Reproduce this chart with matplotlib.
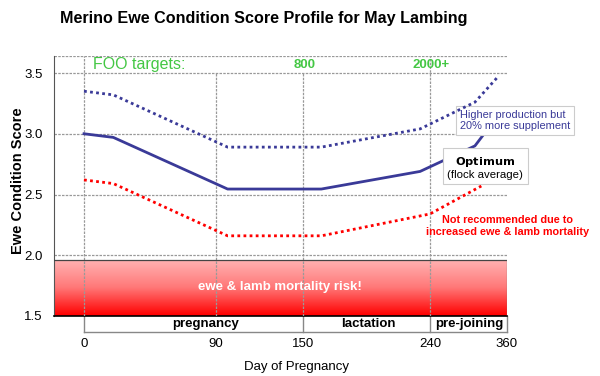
import numpy as np
import matplotlib.pyplot as plt
from matplotlib.scale import FuncScale

plt.rcParams['font.family'] = ['Liberation Sans', 'DejaVu Sans']

# the chart's x axis is not linear in days: tick days and where they sit (relative units)
axis_days = [-20.5, 0, 90, 150, 240, 360]
axis_pos = [54, 84, 216, 303, 430, 507]
tick_days = [0, 90, 150, 240, 360]

# condition score profiles
opt_days = [0, 20, 98, 163, 233, 310, 346]
opt_score = [3.0, 2.97, 2.545, 2.545, 2.69, 2.90, 3.15]
high_days = [0, 20, 98, 163, 233, 310, 346]
high_score = [3.35, 3.32, 2.89, 2.89, 3.04, 3.26, 3.47]
low_days = [0, 20, 98, 163, 240, 320]
low_score = [2.62, 2.59, 2.16, 2.16, 2.34, 2.57]

# phases below the axis
phase_names = ['pregnancy', 'lactation', 'pre-joining']
phase_edges = [0, 150, 240, 360]
phase_label_days = [83, 196, 302]

foo_labels = ['FOO targets:', '800', '2000+']
foo_days = [6, 150, 240]

risk_top = 1.965

blue = '#3a3a98'
green = '#44c744'
red = '#ff0000'


def fwd(d):
    return np.interp(d, axis_days, axis_pos)


def inv(p):
    return np.interp(p, axis_pos, axis_days)


fig = plt.figure(figsize=(6, 3.76), dpi=100)
ax = fig.add_axes([54 / 600, 1 - 316 / 376, (507 - 54) / 600, 260 / 376])
ax.set_xscale(FuncScale(ax, (fwd, inv)))
ax.set_xlim(-20.5, 360)
ax.set_ylim(1.5, 3.64)

for s in ['top', 'right']:
    ax.spines[s].set_visible(False)
ax.spines['left'].set_color('#555555')
ax.spines['bottom'].set_color('black')
ax.spines['bottom'].set_linewidth(1.2)

# grid
grid_kw = dict(color='#999999', ls=(0, (2, 1)), lw=0.9)
for y in [2.0, 2.5, 3.0, 3.5, 3.64]:
    ax.axhline(y, zorder=1, **grid_kw)
ax.vlines([0, 240], 1.5, 3.64, zorder=3, **grid_kw)
ax.vlines([90, 150], 1.5, 3.5, zorder=3, **grid_kw)

# red risk zone with gradient
grad = np.linspace(0, 1, 256).reshape(-1, 1)
cmap = plt.matplotlib.colors.LinearSegmentedColormap.from_list(
    'r', ['#ff0000', '#ff7878', '#ffb4b4'])
ax.imshow(grad, extent=(-20.5, 360, 1.5, risk_top), origin='lower', aspect='auto',
          cmap=cmap, zorder=2)
ax.plot([-20.5, 360], [risk_top, risk_top], color='#444444', lw=0.9, zorder=3)
ax.plot([360, 360], [1.5, risk_top], color='#777777', lw=0.9, zorder=3)
ax.text(134, 1.735, 'ewe & lamb mortality risk!', color='white', weight='bold',
        fontsize=9.5, ha='center', va='center', zorder=4)

# profiles
ax.plot(opt_days, opt_score, color=blue, lw=2, zorder=5)
ax.plot(high_days, high_score, color=blue, lw=2, ls=(0, (1, 1.2)), zorder=7)
ax.plot(low_days, low_score, color=red, lw=2, ls=(0, (1, 1.2)), zorder=5)

# annotations
box = dict(boxstyle='square,pad=0.35', fc='white', ec='#cccccc', lw=0.8)
ax.text(286, 3.11, 'Higher production but\n20% more supplement', color=blue,
        fontsize=7.9, ha='left', va='center', linespacing=1.2, bbox=box, zorder=6)
ax.text(326, 2.725, r'$\bf{Optimum}$' + '\n(flock average)', color='black',
        fontsize=8.2, ha='center', va='center', linespacing=1.15,
        bbox=dict(boxstyle='square,pad=0.4', fc='white', ec='#cccccc', lw=0.8),
        zorder=6)
ax.text(360, 2.24, 'Not recommended due to\nincreased ewe & lamb mortality', color=red,
        weight='bold', fontsize=7.8, ha='center', va='center', linespacing=1.15, zorder=6)

# FOO targets
ax.text(foo_days[0], 3.57, foo_labels[0], color=green, fontsize=11.5, ha='left',
        va='center', zorder=6)
for d, lab in zip(foo_days[1:], foo_labels[1:]):
    ax.text(d + 1, 3.57, lab, color=green, fontsize=9.5, weight='bold', ha='center',
            va='center', zorder=6)

# ticks
ax.set_yticks([1.5, 2.0, 2.5, 3.0, 3.5])
ax.set_yticklabels(['1.5', '2.0', '2.5', '3.0', '3.5'])
ax.tick_params(axis='y', length=0, pad=8, labelsize=9.5)
ax.set_xticks(tick_days)
ax.set_xticklabels([str(d) for d in tick_days])
ax.tick_params(axis='x', length=0, pad=16, labelsize=9.5)
ax.set_ylabel('Ewe Condition Score', weight='bold', fontsize=10.5)
ax.yaxis.set_label_coords(-29 / 453, 0.52)
ax.set_xlabel('Day of Pregnancy', fontsize=9.5)
ax.xaxis.set_label_coords((297 - 54) / 453, -45 / 260)

# phase boxes below the axis
y_low = -16 / 260
tr = ax.get_xaxis_transform()
ax.plot([0, 0], [0, y_low], color='#888888', lw=1, transform=tr, clip_on=False)
ax.plot([0, 360], [y_low, y_low], color='#888888', lw=1, transform=tr, clip_on=False)
for e in phase_edges[1:]:
    ax.plot([e, e], [0, y_low], color='#888888', lw=1, transform=tr, clip_on=False)
for name, d in zip(phase_names, phase_label_days):
    ax.text(d, y_low / 2, name, weight='bold', fontsize=9.5, ha='center',
            va='center', transform=tr)

fig.text(264 / 600, 1 - 18 / 376, 'Merino Ewe Condition Score Profile for May Lambing',
         weight='bold', fontsize=11.6, ha='center', va='center')

fig.savefig('out.png', dpi=100)
